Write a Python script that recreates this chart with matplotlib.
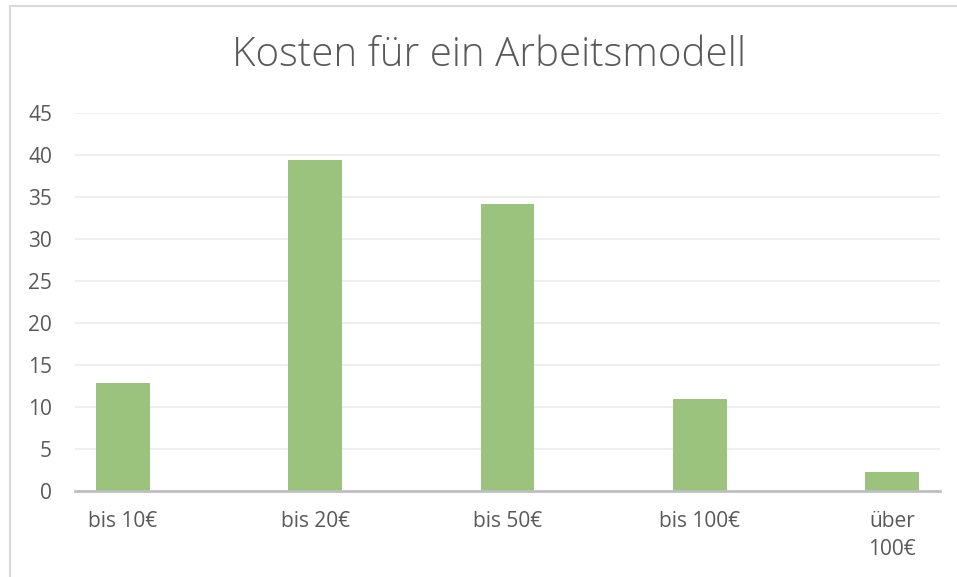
import matplotlib
matplotlib.use("Agg")
import matplotlib.pyplot as plt
from matplotlib.patches import Rectangle

categories = ["bis 10€", "bis 20€", "bis 50€", "bis 100€", "über\n100€"]
values = [12.8, 39.4, 34.2, 10.9, 2.3]
yticks = [0, 5, 10, 15, 20, 25, 30, 35, 40, 45]
title = "Kosten für ein Arbeitsmodell"

W, H = 957, 577
fig = plt.figure(figsize=(W / 100, H / 100), dpi=100)
fig.patch.set_facecolor("white")

FONT = "Open Sans"
ax = fig.add_axes([75 / W, 1 - 491 / H, 865 / W, (491 - 113) / H])
x = list(range(len(categories)))
ax.bar(x, values, width=0.28, color="#9BC37D", zorder=3)
ax.set_xlim(-0.25, len(categories) - 0.75)
ax.set_ylim(0, 45)
ax.set_yticks(yticks)
ax.set_xticks(x)
ax.set_xticklabels(categories, fontfamily=FONT, fontsize=15, color="#595959",
                   linespacing=1.4, va="top")
for lab in ax.get_yticklabels():
    lab.set_fontfamily(FONT)
ax.tick_params(axis="y", length=0, pad=16.5, labelsize=15, labelcolor="#595959")
ax.tick_params(axis="x", length=0, pad=14.5)
ax.grid(axis="y", color="#EEEEEE", linewidth=1.3, zorder=0)
for s in ["top", "right", "left"]:
    ax.spines[s].set_visible(False)
ax.spines["bottom"].set_color("#BFBFBF")
ax.spines["bottom"].set_linewidth(2)
ax.spines["bottom"].set_zorder(4)

fig.text(489 / W, 1 - 56 / H, title, ha="center", va="center",
         fontfamily=FONT, fontweight="light", fontsize=29, color="#595959")

fig.patches.append(Rectangle((9.5 / W, -0.1), 1.2, 1.1 - 6.5 / H + 0.0,
                             transform=fig.transFigure, fill=False,
                             edgecolor="#D9D9D9", linewidth=1.5))

fig.savefig("out.png", dpi=100)
